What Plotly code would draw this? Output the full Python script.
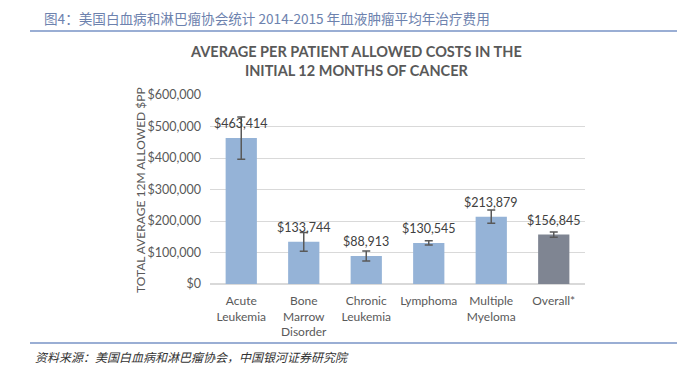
import plotly.graph_objects as go

categories = ["Acute<br>Leukemia", "Bone<br>Marrow<br>Disorder", "Chronic<br>Leukemia", "Lymphoma", "Multiple<br>Myeloma", "Overall*"]
values = [463414, 133744, 88913, 130545, 213879, 156845]
errors = [67000, 30000, 16000, 7000, 21000, 8500]
labels = ["$463,414", "$133,744", "$88,913", "$130,545", "$213,879", "$156,845"]
tick_vals = [0, 100000, 200000, 300000, 400000, 500000, 600000]
tick_text = ["$0", "$100,000", "$200,000", "$300,000", "$400,000", "$500,000", "$600,000"]

colors = ["#95B3D7"] * 5 + ["#7F8592"]
FONT = "Lato, Open Sans, sans-serif"

fig = go.Figure()
fig.add_trace(go.Bar(
    x=categories, y=values,
    marker=dict(color=colors, line=dict(width=0)),
    error_y=dict(type="data", array=errors, color="#595959", thickness=1.5, width=4),
    hoverinfo="skip",
))

OFF = 8  # page body margin
W, H = 685, 365
L, R = 210 - OFF, W - (585 - OFF)
T, B = 95 - OFF, H - (284 - OFF)
pw = W - L - R
ph = H - T - B
def px_x(x): return (x - OFF - L) / pw
def px_y(y): return (H - B - (y - OFF)) / ph

annotations = [
    dict(text="图4：美国白血病和淋巴瘤协会统计 2014-2015 年血液肿瘤平均年治疗费用",
         xref="paper", yref="paper", x=px_x(42), y=px_y(18), xanchor="left", yanchor="middle",
         showarrow=False,
         font=dict(family="Noto Sans CJK SC", size=13.6, color="#6D82AE")),
    dict(text="<b>AVERAGE PER PATIENT ALLOWED COSTS IN THE<br>INITIAL 12 MONTHS OF CANCER</b>",
         xref="paper", yref="paper", x=px_x(356), y=px_y(61), xanchor="center", yanchor="middle",
         showarrow=False,
         font=dict(family=FONT, size=14.5, color="#595959")),
    dict(text="TOTAL AVERAGE 12M ALLOWED $PP", textangle=-90,
         xref="paper", yref="paper", x=px_x(140), y=px_y(190), xanchor="center", yanchor="middle",
         showarrow=False,
         font=dict(family=FONT, size=12, color="#595959")),
    dict(text="<i>资料来源：美国白血病和淋巴瘤协会，中国银河证券研究院</i>",
         xref="paper", yref="paper", x=px_x(33), y=px_y(356), xanchor="left", yanchor="middle",
         showarrow=False,
         font=dict(family="Noto Sans CJK SC", size=12, color="#333333")),
]
for c, v, t in zip(categories, values, labels):
    annotations.append(dict(x=c, y=v, xref="x", yref="y", text=t, showarrow=False,
                            xanchor="center", yanchor="bottom", yshift=5,
                            font=dict(family=FONT, size=12.5, color="#404040")))

fig.update_layout(
    width=W, height=H,
    margin=dict(l=L, r=R, t=T, b=B, autoexpand=False),
    paper_bgcolor="white", plot_bgcolor="white",
    bargap=0.5, showlegend=False,
    font=dict(family=FONT, color="#595959"),
    xaxis=dict(tickfont=dict(size=12, color="#595959"), showline=False, ticks="",
               automargin=False, ticklabelstandoff=8),
    yaxis=dict(range=[0, 600000], tickvals=tick_vals, ticktext=tick_text,
               tickfont=dict(size=12.5, color="#595959"), gridcolor="#D9D9D9",
               gridwidth=1, zeroline=True, zerolinecolor="#D9D9D9", ticks="",
               ticklabelstandoff=8, automargin=False),
    annotations=annotations,
)

fig.add_shape(type="line", xref="paper", yref="paper", x0=px_x(30), x1=px_x(693),
              y0=px_y(31), y1=px_y(31), line=dict(color="#7893C6", width=1.5))
fig.add_shape(type="line", xref="paper", yref="paper", x0=px_x(30), x1=px_x(693),
              y0=px_y(343), y1=px_y(343), line=dict(color="#7893C6", width=1.5))

fig.write_html("out.html")
